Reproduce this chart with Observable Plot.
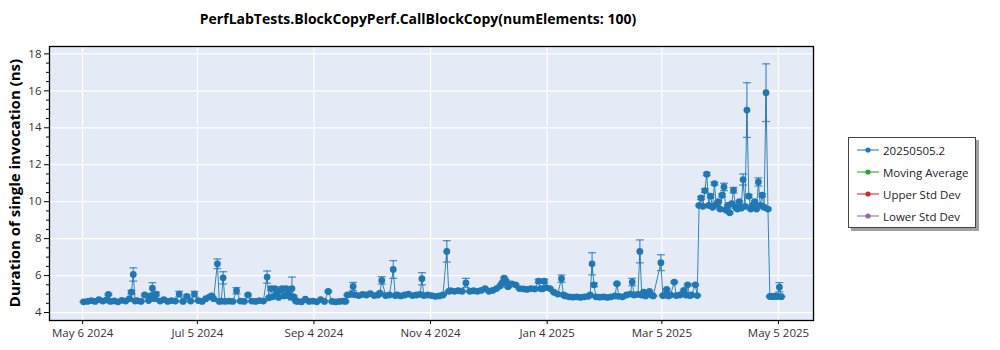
<!DOCTYPE html>
<html>
<head>
<meta charset="utf-8">
<script src="https://cdn.jsdelivr.net/npm/d3@7"></script>
<script src="https://cdn.jsdelivr.net/npm/@observablehq/plot@0.6"></script>
<style>
  body { margin: 0; background: #fff; }
  #wrap { position: relative; width: 1000px; height: 350px; font-family: "Open Sans", "Noto Sans", sans-serif; color: #000; }
  #title { position: absolute; left: 0; width: 836px; top: 9px; text-align: center; font-weight: bold; font-size: 14px; white-space: nowrap; }
  #ylabel { position: absolute; left: 14px; top: 183px; transform: translate(-50%, -50%) rotate(-90deg); font-weight: bold; font-size: 15px; white-space: nowrap; }
  #legend { position: absolute; left: 848px; top: 137px; width: 126px; height: 89px; border: 1px solid #444; background: #fff; box-shadow: 3px 3px 0 #a0a0a0; font-size: 11.5px; }
  .item { position: absolute; left: 8px; height: 20px; display: flex; align-items: center; }
  .item span { margin-left: 4px; color: #222; }
  #chart { position: absolute; left: 0; top: 0; }
</style>
</head>
<body>
<div id="wrap">
  <div id="chart"></div>
  <div id="title"></div>
  <div id="ylabel"></div>
  <div id="legend"></div>
</div>
<script>
const titleText = "PerfLabTests.BlockCopyPerf.CallBlockCopy(numElements: 100)";
const yLabelText = "Duration of single invocation (ns)";
const legendLabels = ["20250505.2", "Moving Average", "Upper Std Dev", "Lower Std Dev"];
const legendColors = ["#1f77b4", "#2ca02c", "#d62728", "#9467bd"];

const xTickDates = ["2024-05-06", "2024-07-05", "2024-09-04", "2024-11-04", "2025-01-04", "2025-03-05", "2025-05-05"];
const yTicks = [4, 6, 8, 10, 12, 14, 16, 18];

const dates = [
"2024-05-06","2024-05-08","2024-05-10","2024-05-12","2024-05-14","2024-05-16","2024-05-18","2024-05-19","2024-05-20","2024-05-22",
"2024-05-24","2024-05-26","2024-05-28","2024-05-30","2024-05-31","2024-06-01","2024-06-02","2024-06-03","2024-06-05","2024-06-07",
"2024-06-09","2024-06-10","2024-06-11","2024-06-12","2024-06-13","2024-06-15","2024-06-17","2024-06-19","2024-06-21","2024-06-23",
"2024-06-25","2024-06-27","2024-06-29","2024-07-01","2024-07-03","2024-07-05","2024-07-07","2024-07-09","2024-07-11","2024-07-12",
"2024-07-13","2024-07-15","2024-07-16","2024-07-17","2024-07-18","2024-07-19","2024-07-21","2024-07-23","2024-07-25","2024-07-27",
"2024-07-29","2024-07-31","2024-08-02","2024-08-04","2024-08-06","2024-08-08","2024-08-10","2024-08-11","2024-08-12","2024-08-13",
"2024-08-14","2024-08-15","2024-08-16","2024-08-17","2024-08-18","2024-08-19","2024-08-20","2024-08-21","2024-08-22","2024-08-23",
"2024-08-24","2024-08-25","2024-08-26","2024-08-28","2024-08-30","2024-09-01","2024-09-03","2024-09-05","2024-09-07","2024-09-09",
"2024-09-11","2024-09-13","2024-09-15","2024-09-17","2024-09-19","2024-09-20","2024-09-21","2024-09-23","2024-09-24","2024-09-25",
"2024-09-27","2024-09-29","2024-10-01","2024-10-03","2024-10-05","2024-10-07","2024-10-08","2024-10-09","2024-10-11","2024-10-13",
"2024-10-15","2024-10-16","2024-10-17","2024-10-19","2024-10-21","2024-10-23","2024-10-25","2024-10-27","2024-10-29","2024-10-30",
"2024-10-31","2024-11-02","2024-11-04","2024-11-06","2024-11-08","2024-11-10","2024-11-12","2024-11-13","2024-11-14","2024-11-16",
"2024-11-18","2024-11-20","2024-11-22","2024-11-24","2024-11-26","2024-11-28","2024-11-30","2024-12-02","2024-12-04","2024-12-06",
"2024-12-08","2024-12-10","2024-12-11","2024-12-12","2024-12-13","2024-12-14","2024-12-16","2024-12-18","2024-12-20","2024-12-22",
"2024-12-24","2024-12-26","2024-12-28","2024-12-30","2024-12-31","2025-01-01","2025-01-02","2025-01-03","2025-01-05","2025-01-07",
"2025-01-09","2025-01-11","2025-01-12","2025-01-13","2025-01-15","2025-01-17","2025-01-19","2025-01-21","2025-01-23","2025-01-25",
"2025-01-26","2025-01-27","2025-01-28","2025-01-29","2025-01-31","2025-02-02","2025-02-04","2025-02-06","2025-02-08","2025-02-09",
"2025-02-10","2025-02-12","2025-02-14","2025-02-16","2025-02-17","2025-02-18","2025-02-20","2025-02-21","2025-02-22","2025-02-23",
"2025-02-24","2025-02-26","2025-02-27","2025-02-28","2025-03-04","2025-03-05","2025-03-06","2025-03-07","2025-03-08","2025-03-09",
"2025-03-11","2025-03-12","2025-03-14","2025-03-16","2025-03-17","2025-03-18","2025-03-19","2025-03-20","2025-03-22","2025-03-23",
"2025-03-24","2025-03-25","2025-03-26","2025-03-27","2025-03-28","2025-03-29","2025-03-30","2025-03-31","2025-04-01","2025-04-02",
"2025-04-03","2025-04-04","2025-04-05","2025-04-06","2025-04-07","2025-04-08","2025-04-09","2025-04-10","2025-04-11","2025-04-12",
"2025-04-13","2025-04-14","2025-04-15","2025-04-16","2025-04-17","2025-04-18","2025-04-19","2025-04-20","2025-04-21","2025-04-22",
"2025-04-23","2025-04-24","2025-04-25","2025-04-26","2025-04-27","2025-04-28","2025-04-29","2025-04-30","2025-05-01","2025-05-02",
"2025-05-03","2025-05-04","2025-05-05","2025-05-06"
];

const values = [
4.58,4.60,4.65,4.60,4.70,4.62,4.68,4.98,4.60,4.63,
4.58,4.66,4.62,4.75,5.10,6.06,4.62,4.65,4.60,4.95,
4.65,4.90,5.32,4.75,5.00,4.62,4.70,4.60,4.65,4.62,
5.00,4.60,4.88,4.62,5.00,4.65,4.60,4.75,4.85,4.90,
4.75,6.64,4.60,4.62,5.88,4.60,4.62,4.60,5.18,4.62,
4.60,4.95,4.62,4.60,4.65,4.62,5.92,4.80,5.30,4.85,
5.30,5.00,4.82,5.20,5.30,4.90,5.30,5.00,4.85,5.30,
4.85,4.62,4.60,4.58,4.72,4.60,4.62,4.58,4.70,4.60,
5.14,4.60,4.58,4.60,4.62,4.60,4.95,4.98,5.41,4.96,
4.92,4.98,4.95,5.02,4.92,4.95,5.05,5.74,4.92,4.95,
6.33,4.92,4.95,4.90,4.95,5.00,4.92,4.95,4.98,5.83,
4.92,4.95,4.92,4.88,4.90,4.95,7.31,5.15,5.18,5.15,
5.18,5.15,5.60,5.15,5.18,5.15,5.20,5.30,5.15,5.20,
5.30,5.45,5.60,5.86,5.70,5.40,5.55,5.50,5.30,5.28,
5.25,5.30,5.28,5.70,5.30,5.28,5.70,5.35,5.30,5.10,
5.00,5.83,4.95,4.90,4.85,4.83,4.85,4.82,4.85,4.88,
4.95,6.64,5.50,4.85,4.83,4.85,4.82,4.85,4.90,5.56,
4.88,4.85,4.95,5.00,5.65,4.95,4.98,7.31,4.95,5.10,
4.90,5.15,4.95,4.90,6.70,4.92,4.95,5.25,4.90,4.95,
5.65,4.92,4.95,5.20,4.95,5.50,4.92,4.95,5.50,4.92,
9.80,10.20,9.75,10.60,11.49,9.80,10.30,9.70,10.98,9.85,
10.00,9.60,10.35,10.80,9.55,9.80,9.40,9.90,10.62,9.70,
9.60,10.00,9.65,11.20,9.75,14.96,10.30,9.60,9.80,10.00,
9.60,11.07,9.80,10.35,9.70,15.90,9.60,4.87,4.88,4.86,
4.90,4.87,5.37,4.86
];

const errors = [
0.03,0.03,0.03,0.03,0.03,0.03,0.03,0.05,0.03,0.03,
0.03,0.03,0.03,0.03,0.08,0.36,0.03,0.03,0.03,0.05,
0.03,0.05,0.30,0.03,0.10,0.03,0.03,0.03,0.03,0.03,
0.15,0.03,0.08,0.03,0.15,0.03,0.03,0.03,0.05,0.05,
0.03,0.26,0.03,0.03,0.33,0.03,0.03,0.03,0.17,0.03,
0.03,0.05,0.03,0.03,0.03,0.03,0.33,0.05,0.10,0.05,
0.10,0.05,0.05,0.05,0.10,0.05,0.10,0.05,0.05,0.62,
0.05,0.03,0.03,0.03,0.03,0.03,0.03,0.03,0.03,0.03,
0.05,0.03,0.03,0.03,0.03,0.03,0.03,0.03,0.22,0.03,
0.03,0.03,0.03,0.03,0.03,0.03,0.05,0.20,0.03,0.03,
0.48,0.03,0.03,0.03,0.03,0.03,0.03,0.03,0.03,0.33,
0.03,0.03,0.03,0.03,0.03,0.03,0.58,0.03,0.03,0.03,
0.03,0.03,0.25,0.03,0.03,0.03,0.03,0.05,0.03,0.03,
0.05,0.05,0.05,0.05,0.05,0.05,0.05,0.05,0.03,0.03,
0.03,0.03,0.03,0.10,0.03,0.03,0.10,0.05,0.03,0.03,
0.03,0.20,0.03,0.03,0.03,0.03,0.03,0.03,0.03,0.03,
0.03,0.60,0.10,0.03,0.03,0.03,0.03,0.03,0.03,0.05,
0.03,0.03,0.03,0.03,0.20,0.03,0.03,0.62,0.03,0.05,
0.03,0.05,0.03,0.03,0.43,0.03,0.03,0.05,0.03,0.03,
0.05,0.03,0.03,0.05,0.03,0.05,0.03,0.03,0.05,0.03,
0.05,0.08,0.05,0.10,0.08,0.05,0.08,0.05,0.08,0.05,
0.05,0.05,0.08,0.20,0.05,0.05,0.05,0.05,0.15,0.05,
0.05,0.05,0.05,0.30,0.05,1.48,0.08,0.05,0.05,0.05,
0.05,0.22,0.05,0.08,0.05,1.56,0.05,0.03,0.03,0.03,
0.03,0.03,0.25,0.03
];

const blue = "#1f77b4";
const data = dates.map((d, i) => ({date: new Date(d + "T12:00:00Z"), value: values[i], lo: values[i] - errors[i], hi: values[i] + errors[i]}));
const tickDates = xTickDates.map(d => new Date(d + "T00:00:00Z"));

const capSymbol = {
  draw(context, size) {
    const w = 4;
    context.moveTo(-w, 0);
    context.lineTo(w, 0);
  }
};

const minorTicks = d3.range(4, 18.01, 0.5).filter(v => !yTicks.includes(v));

const chart = Plot.plot({
  width: 1000,
  height: 350,
  marginLeft: 49,
  marginRight: 187,
  marginTop: 46,
  marginBottom: 30,
  style: {fontFamily: "'Open Sans', 'Noto Sans', sans-serif", fontSize: "11.5px", color: "#222", background: "transparent"},
  x: {type: "utc", domain: [new Date("2024-04-18T16:00:00Z"), new Date("2025-05-23T08:00:00Z")]},
  y: {domain: [3.57, 18.4]},
  marks: [
    Plot.frame({fill: "#e5ebf6", stroke: null}),
    Plot.gridX(tickDates, {stroke: "#fff", strokeOpacity: 1, strokeWidth: 1.2}),
    Plot.gridY(yTicks, {stroke: "#fff", strokeOpacity: 1, strokeWidth: 1.2}),
    Plot.ruleX(data, {x: "date", y1: "lo", y2: "hi", stroke: blue, strokeOpacity: 0.75, strokeWidth: 1.3}),
    Plot.dot(data, {x: "date", y: "hi", symbol: capSymbol, stroke: blue, strokeOpacity: 0.75, strokeWidth: 1.3, fill: "none"}),
    Plot.dot(data, {x: "date", y: "lo", symbol: capSymbol, stroke: blue, strokeOpacity: 0.75, strokeWidth: 1.3, fill: "none"}),
    Plot.line(data, {x: "date", y: "value", stroke: blue, strokeWidth: 1, strokeOpacity: 0.9}),
    Plot.dot(data, {x: "date", y: "value", r: 3.4, fill: blue, stroke: null}),
    Plot.axisY(minorTicks, {tickSize: 3, text: null, stroke: "#000"}),
    Plot.axisY(yTicks, {tickSize: 5, tickPadding: 3, label: null, stroke: "#000", fill: "#333"}),
    Plot.axisX(tickDates, {tickSize: 4, tickPadding: 4, label: null, tickFormat: d3.utcFormat("%b %-d %Y"), stroke: "#000", fill: "#333"}),
    Plot.frame({stroke: "#000", strokeWidth: 1.3})
  ]
});
document.getElementById("chart").appendChild(chart);
document.getElementById("title").textContent = titleText;
document.getElementById("ylabel").textContent = yLabelText;

const legend = document.getElementById("legend");
legendLabels.forEach((label, i) => {
  const item = document.createElement("div");
  item.className = "item";
  item.style.top = (2 + i * 22) + "px";
  item.innerHTML = `<svg width="22" height="10"><line x1="0" y1="5" x2="22" y2="5" stroke="${legendColors[i]}" stroke-width="1.3" stroke-opacity="0.8"/><circle cx="11" cy="5" r="2.6" fill="${legendColors[i]}"/></svg><span></span>`;
  item.querySelector("span").textContent = label;
  legend.appendChild(item);
});
</script>
</body>
</html>
